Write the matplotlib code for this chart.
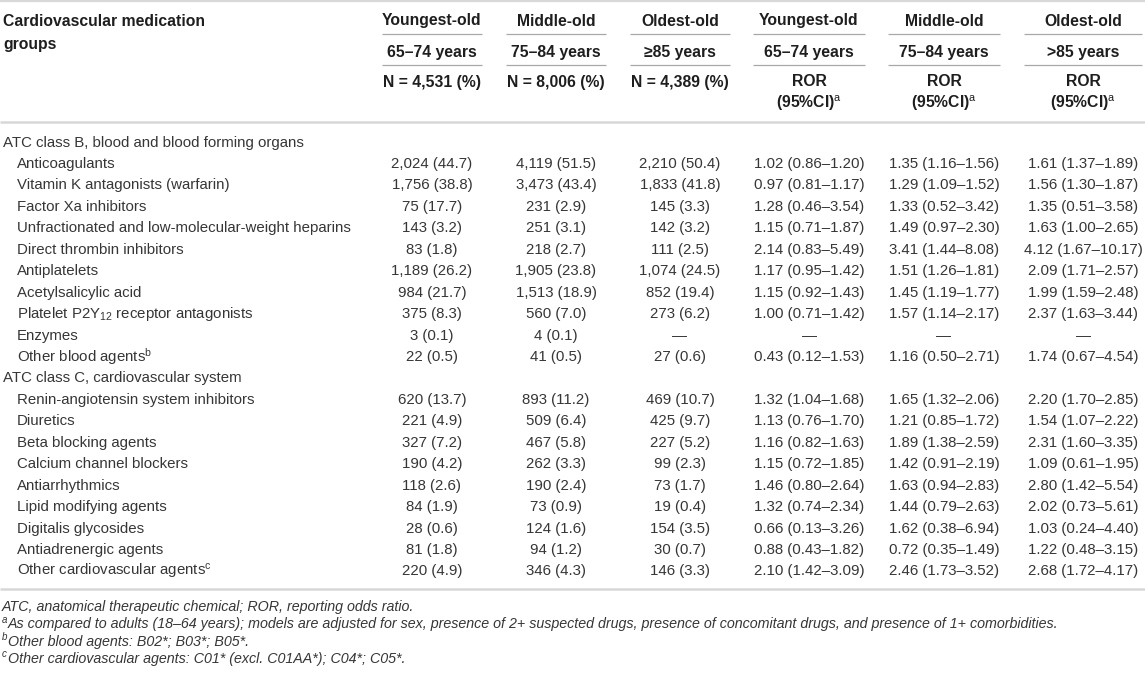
import matplotlib
matplotlib.use("Agg")
import matplotlib.pyplot as plt

plt.rcParams["font.family"] = ["Liberation Sans", "DejaVu Sans"]
plt.rcParams["mathtext.fontset"] = "custom"
plt.rcParams["mathtext.rm"] = "Liberation Sans"
plt.rcParams["mathtext.it"] = "Liberation Sans:italic"
plt.rcParams["mathtext.bf"] = "Liberation Sans:bold"

# ---------------- data ----------------
stub_header = ["Cardiovascular medication", "groups"]
col_group = ["Youngest-old", "Middle-old", "Oldest-old",
             "Youngest-old", "Middle-old", "Oldest-old"]
col_age = ["65–74 years", "75–84 years", "≥85 years",
           "65–74 years", "75–84 years", ">85 years"]
col_stat = ["N = 4,531 (%)", "N = 8,006 (%)", "N = 4,389 (%)", "ROR", "ROR", "ROR"]
col_stat2 = ["", "", "", r"(95%CI)$^{\mathrm{a}}$", r"(95%CI)$^{\mathrm{a}}$",
             r"(95%CI)$^{\mathrm{a}}$"]

row_labels = [
    "ATC class B, blood and blood forming organs",
    "Anticoagulants",
    "Vitamin K antagonists (warfarin)",
    "Factor Xa inhibitors",
    "Unfractionated and low-molecular-weight heparins",
    "Direct thrombin inhibitors",
    "Antiplatelets",
    "Acetylsalicylic acid",
    r"Platelet P2Y$_{\mathrm{12}}$ receptor antagonists",
    "Enzymes",
    r"Other blood agents$^{\mathrm{b}}$",
    "ATC class C, cardiovascular system",
    "Renin-angiotensin system inhibitors",
    "Diuretics",
    "Beta blocking agents",
    "Calcium channel blockers",
    "Antiarrhythmics",
    "Lipid modifying agents",
    "Digitalis glycosides",
    "Antiadrenergic agents",
    r"Other cardiovascular agents$^{\mathrm{c}}$",
]
row_is_group = [True] + [False] * 10 + [True] + [False] * 9

n_youngest = ["", "2,024 (44.7)", "1,756 (38.8)", "75 (17.7)", "143 (3.2)", "83 (1.8)",
              "1,189 (26.2)", "984 (21.7)", "375 (8.3)", "3 (0.1)", "22 (0.5)",
              "", "620 (13.7)", "221 (4.9)", "327 (7.2)", "190 (4.2)", "118 (2.6)",
              "84 (1.9)", "28 (0.6)", "81 (1.8)", "220 (4.9)"]
n_middle = ["", "4,119 (51.5)", "3,473 (43.4)", "231 (2.9)", "251 (3.1)", "218 (2.7)",
            "1,905 (23.8)", "1,513 (18.9)", "560 (7.0)", "4 (0.1)", "41 (0.5)",
            "", "893 (11.2)", "509 (6.4)", "467 (5.8)", "262 (3.3)", "190 (2.4)",
            "73 (0.9)", "124 (1.6)", "94 (1.2)", "346 (4.3)"]
n_oldest = ["", "2,210 (50.4)", "1,833 (41.8)", "145 (3.3)", "142 (3.2)", "111 (2.5)",
            "1,074 (24.5)", "852 (19.4)", "273 (6.2)", "—", "27 (0.6)",
            "", "469 (10.7)", "425 (9.7)", "227 (5.2)", "99 (2.3)", "73 (1.7)",
            "19 (0.4)", "154 (3.5)", "30 (0.7)", "146 (3.3)"]
ror_youngest = ["", "1.02 (0.86–1.20)", "0.97 (0.81–1.17)", "1.28 (0.46–3.54)",
                "1.15 (0.71–1.87)", "2.14 (0.83–5.49)", "1.17 (0.95–1.42)",
                "1.15 (0.92–1.43)", "1.00 (0.71–1.42)", "—", "0.43 (0.12–1.53)",
                "", "1.32 (1.04–1.68)", "1.13 (0.76–1.70)", "1.16 (0.82–1.63)",
                "1.15 (0.72–1.85)", "1.46 (0.80–2.64)", "1.32 (0.74–2.34)",
                "0.66 (0.13–3.26)", "0.88 (0.43–1.82)", "2.10 (1.42–3.09)"]
ror_middle = ["", "1.35 (1.16–1.56)", "1.29 (1.09–1.52)", "1.33 (0.52–3.42)",
              "1.49 (0.97–2.30)", "3.41 (1.44–8.08)", "1.51 (1.26–1.81)",
              "1.45 (1.19–1.77)", "1.57 (1.14–2.17)", "—", "1.16 (0.50–2.71)",
              "", "1.65 (1.32–2.06)", "1.21 (0.85–1.72)", "1.89 (1.38–2.59)",
              "1.42 (0.91–2.19)", "1.63 (0.94–2.83)", "1.44 (0.79–2.63)",
              "1.62 (0.38–6.94)", "0.72 (0.35–1.49)", "2.46 (1.73–3.52)"]
ror_oldest = ["", "1.61 (1.37–1.89)", "1.56 (1.30–1.87)", "1.35 (0.51–3.58)",
              "1.63 (1.00–2.65)", "4.12 (1.67–10.17)", "2.09 (1.71–2.57)",
              "1.99 (1.59–2.48)", "2.37 (1.63–3.44)", "—", "1.74 (0.67–4.54)",
              "", "2.20 (1.70–2.85)", "1.54 (1.07–2.22)", "2.31 (1.60–3.35)",
              "1.09 (0.61–1.95)", "2.80 (1.42–5.54)", "2.02 (0.73–5.61)",
              "1.03 (0.24–4.40)", "1.22 (0.48–3.15)", "2.68 (1.72–4.17)"]

footnote_marks = ["", "a", "b", "c"]
footnote_texts = [
    "ATC, anatomical therapeutic chemical; ROR, reporting odds ratio.",
    "As compared to adults (18–64 years); models are adjusted for sex, presence of 2+ "
    "suspected drugs, presence of concomitant drugs, and presence of 1+ comorbidities.",
    "Other blood agents: B02*; B03*; B05*.",
    "Other cardiovascular agents: C01* (excl. C01AA*); C04*; C05*.",
]

columns = [n_youngest, n_middle, n_oldest, ror_youngest, ror_middle, ror_oldest]

# ---------------- layout ----------------
W, H = 1145, 676
fig = plt.figure(figsize=(W / 100, H / 100), dpi=100)
ax = fig.add_axes([0, 0, 1, 1])
ax.set_xlim(0, W)
ax.set_ylim(H, 0)
ax.axis("off")

col_span = [(382, 482), (506, 606), (630, 730), (753, 865), (888, 1000), (1024, 1142)]
col_cx = [(a + b) / 2 for a, b in col_span]

hdr_color = "#1e1e1e"
body_color = "#363636"
hdr_fs = 11.3
body_fs = 10.8
foot_fs = 10.3
light_line = "#d8d8d8"
mid_line = "#a8a8a8"

# rules
ax.plot([0, W], [1, 1], color=light_line, lw=1.6, solid_capstyle="butt")
ax.plot([0, W], [122, 122], color=light_line, lw=1.8, solid_capstyle="butt")
ax.plot([0, W], [589, 589], color=light_line, lw=1.8, solid_capstyle="butt")
for (a, b) in col_span:
    for yy in (34, 65):
        ax.plot([a, b], [yy, yy], color=mid_line, lw=0.9, solid_capstyle="butt")

# header
ax.text(3, 21, stub_header[0], fontsize=hdr_fs, fontweight="bold", color=hdr_color,
        ha="left", va="center")
ax.text(3, 45, stub_header[1], fontsize=hdr_fs, fontweight="bold", color=hdr_color,
        ha="left", va="center")
for i, cx in enumerate(col_cx):
    ax.text(cx, 21, col_group[i], fontsize=hdr_fs, fontweight="bold", color=hdr_color,
            ha="center", va="center")
    ax.text(cx, 52, col_age[i], fontsize=hdr_fs, fontweight="bold", color=hdr_color,
            ha="center", va="center")
    ax.text(cx, 82, col_stat[i], fontsize=hdr_fs, fontweight="bold", color=hdr_color,
            ha="center", va="center")
    if col_stat2[i]:
        ax.text(cx, 103, col_stat2[i], fontsize=hdr_fs, fontweight="bold",
                color=hdr_color, ha="center", va="center")

# body
y0, dy = 142.5, 21.45
for r, label in enumerate(row_labels):
    y = y0 + r * dy
    x = 3 if row_is_group[r] else 17
    ax.text(x, y, label, fontsize=body_fs, color=body_color, ha="left", va="center")
    for c, col in enumerate(columns):
        if col[r]:
            ax.text(col_cx[c], y, col[r], fontsize=body_fs, color=body_color,
                    ha="center", va="center")

# footnotes
for k, (mark, fn) in enumerate(zip(footnote_marks, footnote_texts)):
    y = 607 + k * 17.3
    if mark:
        ax.text(2, y - 4.5, mark, fontsize=7, style="italic", color=body_color,
                ha="left", va="center")
        ax.text(8, y, fn, fontsize=foot_fs, style="italic", color=body_color,
                ha="left", va="center")
    else:
        ax.text(2, y, fn, fontsize=foot_fs, style="italic", color=body_color,
                ha="left", va="center")

fig.savefig("out.png", dpi=100)
